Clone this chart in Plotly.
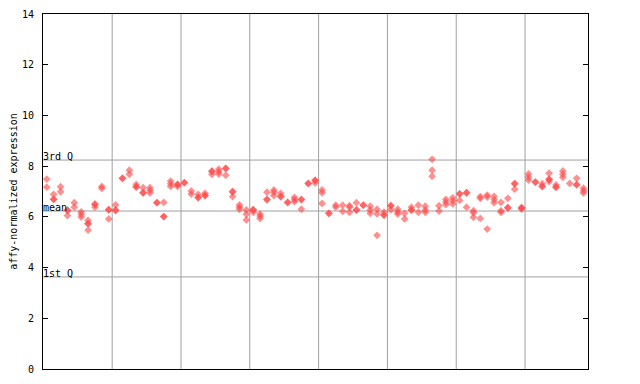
import plotly.graph_objects as go

# expression values per sample (duplicated value = overlapping replicates)
sample_values = [
    [7.49, 7.17], [6.89, 6.69, 6.69], [7.19, 6.99], [6.26, 6.26, 6.05], [6.56, 6.38],
    [6.20, 6.10, 5.99], [5.86, 5.73, 5.73, 5.48], [6.50, 6.50, 6.38], [7.20, 7.12], [6.28, 6.28, 5.92],
    [6.47, 6.26, 6.26], [7.52, 7.52], [7.84, 7.68], [7.28, 7.18, 7.18], [7.15, 6.95, 6.95],
    [7.15, 7.05, 6.94], [6.56, 6.56], [6.57, 6.01, 6.01], [7.41, 7.31, 7.20], [7.28, 7.28, 7.20],
    [7.35, 7.35], [7.02, 6.90], [6.89, 6.76, 6.76], [6.93, 6.84, 6.84], [7.80, 7.80, 7.68],
    [7.88, 7.78, 7.69], [7.91, 7.91, 7.64], [6.99, 6.99, 6.80], [6.47, 6.38, 6.30], [6.27, 6.10, 5.88],
    [6.28, 6.28, 6.18], [6.11, 6.03, 5.94], [6.97, 6.68, 6.68], [7.06, 6.97, 6.84], [6.93, 6.80, 6.80],
    [6.57, 6.57], [6.77, 6.68, 6.60], [6.68, 6.68, 6.30], [7.32, 7.32], [7.44, 7.44, 7.34],
    [7.06, 6.95, 6.53], [6.14, 6.14], [6.46, 6.38], [6.46, 6.22], [6.44, 6.38, 6.18],
    [6.56, 6.27, 6.27], [6.46, 6.46], [6.42, 6.27, 6.14], [6.30, 6.12, 5.27], [6.19, 6.07, 6.07],
    [6.44, 6.44, 6.28], [6.30, 6.19, 6.11], [6.14, 5.92], [6.38, 6.27, 6.27], [6.46, 6.18],
    [6.42, 6.27, 6.18], [8.27, 7.84, 7.60], [6.44, 6.23], [6.69, 6.59, 6.48], [6.75, 6.64, 6.51],
    [6.91, 6.91, 6.65], [6.95, 6.95, 6.38], [6.24, 6.16, 5.98], [6.80, 6.73, 5.94], [6.86, 6.78, 5.52],
    [6.81, 6.68, 6.56], [6.57, 6.24, 6.18], [6.73, 6.36, 6.36], [7.31, 7.31, 7.09], [6.36, 6.36, 6.31],
    [7.69, 7.57, 7.45], [7.37, 7.37], [7.31, 7.20, 7.20], [7.72, 7.48, 7.48, 7.39], [7.26, 7.17, 7.17],
    [7.81, 7.68, 7.56], [7.32], [7.52, 7.27, 7.27], [7.13, 7.03, 6.94],
]

quartile_names = ["1st Q", "mean", "3rd Q"]
quartile_values = [3.63, 6.23, 8.24]
group_boundaries = [9.5, 19.5, 29.5, 39.5, 49.5, 59.5, 69.5]
y_ticks = [0, 2, 4, 6, 8, 10, 12, 14]

xs, ys = [], []
for i, vals in enumerate(sample_values):
    for v in vals:
        xs.append(i)
        ys.append(v)

fig = go.Figure()
fig.add_trace(go.Scatter(
    x=xs, y=ys, mode="markers",
    marker=dict(symbol="diamond", size=6, color="rgba(255,70,70,0.6)", line=dict(width=0)),
    hoverinfo="skip", showlegend=False,
))

shapes = []
for q in quartile_values:
    shapes.append(dict(type="line", xref="paper", x0=0, x1=1, yref="y", y0=q, y1=q,
                       line=dict(color="#a0a0a0", width=1), layer="below"))
for b in group_boundaries:
    shapes.append(dict(type="line", xref="x", x0=b, x1=b, yref="paper", y0=0, y1=1,
                       line=dict(color="#a0a0a0", width=1), layer="below"))

annotations = []
for name, q in zip(quartile_names, quartile_values):
    annotations.append(dict(x=0, xref="paper", y=q, yref="y", text=name, showarrow=False,
                            xanchor="left", yanchor="bottom", yshift=-4, xshift=-2,
                            font=dict(family="DejaVu Sans Mono", size=10, color="black")))

# page body has an 8px margin, so the figure is sized to fit the 640x384 window
fig.update_layout(
    width=632, height=376,
    margin=dict(l=35, r=52, t=6, b=15),
    paper_bgcolor="white", plot_bgcolor="white",
    hovermode=False,
    shapes=shapes, annotations=annotations,
    xaxis=dict(range=[-0.55, 78.65], showgrid=False, zeroline=False, showticklabels=False,
               ticks="", showline=True, linecolor="black", linewidth=1, mirror=True,
               automargin=False),
    yaxis=dict(range=[0, 14], tickvals=y_ticks, ticks="inside", ticklen=5, tickcolor="black",
               showgrid=False, zeroline=False, showline=True, linecolor="black", linewidth=1,
               mirror="ticks", ticklabelstandoff=6, automargin=False,
               tickfont=dict(family="DejaVu Sans Mono", size=10, color="black"),
               title=dict(text="affy-normalized expression", standoff=6,
                          font=dict(family="DejaVu Sans Mono", size=10, color="black"))),
)

fig.write_html("out.html")
